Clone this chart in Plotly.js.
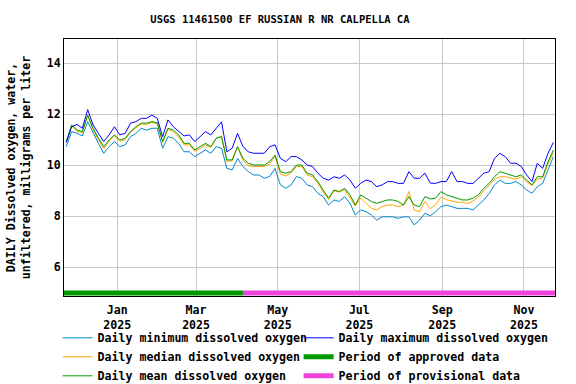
<!DOCTYPE html>
<html>
<head>
<meta charset="utf-8">
<script src="https://cdn.plot.ly/plotly-3.0.1.min.js"></script>
<style>
  body { margin: 0; background: #fff; }
  #plot { width: 576px; height: 384px; }
</style>
</head>
<body>
<div id="plot"></div>
<script>
// USGS 11461500 - daily dissolved oxygen, values read every 4 days from the plot
var startDate = "2024-11-24";
var stepDays = 4;

var dailyMax = [10.89, 11.51, 11.6, 11.45, 12.18, 11.58, 11.25, 10.93, 11.19, 11.51, 11.19, 11.25, 11.65, 11.71, 11.84, 11.84, 11.97, 11.84, 11.12, 11.78, 11.51, 11.32, 11.15,
  11.19, 10.93, 11.12, 11.32, 11.19, 11.45, 11.7, 10.53, 10.67, 11.25, 10.73, 10.53, 10.47, 10.47, 10.47, 10.73, 10.8, 10.27, 10.14, 10.34, 10.34, 10.21, 10.01,
  9.95, 9.69, 9.49, 9.42, 9.55, 9.49, 9.62, 9.42, 9.10, 9.29, 9.42, 9.36, 9.16, 9.23, 9.36, 9.36, 9.29, 9.29, 9.75, 9.49, 9.49, 9.69, 9.3,
  9.29, 9.36, 9.36, 9.75, 9.36, 9.36, 9.29, 9.29, 9.49, 9.69, 9.75, 10.27, 10.47, 10.34, 10.08, 10.08, 9.95, 9.62, 9.36, 10.08, 9.88, 10.47, 10.9];

var dailyMin = [10.73, 11.32, 11.25, 11.15, 11.71, 11.25, 10.86, 10.47, 10.73, 10.93, 10.73, 10.8, 11.12, 11.25, 11.45, 11.38, 11.45, 11.45, 10.67, 11.12, 11.06, 10.86, 10.53,
  10.53, 10.34, 10.47, 10.6, 10.47, 10.73, 10.67, 9.88, 9.82, 10.27, 9.95, 9.75, 9.62, 9.62, 9.49, 9.56, 9.88, 9.23, 9.10, 9.23, 9.56, 9.49, 9.23,
  9.16, 8.90, 8.77, 8.44, 8.64, 8.58, 8.77, 8.51, 8.05, 8.25, 8.18, 8.05, 7.85, 7.98, 7.98, 7.98, 7.92, 7.98, 7.98, 7.66, 7.85, 8.12, 8.02,
  8.18, 8.38, 8.44, 8.38, 8.31, 8.31, 8.31, 8.25, 8.44, 8.64, 8.90, 9.23, 9.42, 9.29, 9.29, 9.36, 9.23, 9.03, 8.90, 9.16, 9.29, 9.82, 10.34];

var dailyMean = [10.93, 11.58, 11.38, 11.32, 11.97, 11.45, 11.06, 10.73, 10.99, 11.19, 10.99, 11.06, 11.32, 11.51, 11.65, 11.65, 11.71, 11.67, 10.93, 11.45, 11.38, 11.19, 10.86,
  10.86, 10.60, 10.73, 10.86, 10.73, 11.06, 11.12, 10.21, 10.21, 10.73, 10.27, 10.08, 10.01, 10.01, 10.01, 10.14, 10.40, 9.75, 9.69, 9.75, 10.01, 10.01, 9.69,
  9.62, 9.36, 9.03, 8.71, 9.03, 8.97, 9.10, 8.84, 8.44, 8.84, 8.71, 8.58, 8.51, 8.58, 8.64, 8.64, 8.58, 8.44, 8.77, 8.44, 8.38, 8.77, 8.68,
  8.71, 8.97, 8.84, 8.77, 8.71, 8.64, 8.64, 8.71, 8.84, 9.10, 9.29, 9.55, 9.75, 9.69, 9.62, 9.55, 9.62, 9.42, 9.23, 9.55, 9.55, 10.14, 10.60];

var dailyMedian = [10.9, 11.55, 11.32, 11.28, 11.95, 11.4, 11.0, 10.65, 10.95, 11.15, 10.95, 11.0, 11.3, 11.45, 11.62, 11.6, 11.68, 11.62, 10.9, 11.42, 11.3, 11.12, 10.8,
  10.8, 10.55, 10.65, 10.8, 10.7, 11.05, 11.15, 10.15, 10.18, 10.72, 10.2, 9.98, 9.95, 9.95, 9.95, 10.05, 10.35, 9.65, 9.58, 9.7, 9.95, 9.95, 9.62,
  9.55, 9.3, 8.95, 8.65, 9.0, 8.95, 9.05, 8.75, 8.4, 8.71, 8.51, 8.31, 8.25, 8.38, 8.44, 8.44, 8.38, 8.44, 8.97, 8.25, 8.18, 8.58, 8.3,
  8.45, 8.75, 8.65, 8.6, 8.55, 8.55, 8.5, 8.6, 8.75, 9.0, 9.2, 9.45, 9.55, 9.55, 9.5, 9.45, 9.55, 9.35, 9.2, 9.45, 9.5, 10.05, 10.5];

// data approval periods
var approvedDates = ["2024-11-22", "2025-04-05"];
var provisionalDates = ["2025-04-05", "2025-11-25"];
var periodLevel = 4.99;

var tickDates = ["2025-01-01", "2025-03-01", "2025-05-01", "2025-07-01", "2025-09-01", "2025-11-01"];
var tickLabels = ["Jan<br>2025", "Mar<br>2025", "May<br>2025", "Jul<br>2025", "Sep<br>2025", "Nov<br>2025"];
var yTicks = [6, 8, 10, 12, 14];

// build the date axis from start + step
var dates = dailyMax.map(function(v, i) {
  var d = new Date(startDate + "T00:00:00Z");
  d.setUTCDate(d.getUTCDate() + i * stepDays);
  return d.toISOString().slice(0, 10);
});

var font = "DejaVu Sans Mono, monospace";

// left legend column: min, median, mean; right column: max, approved, provisional
var traceMin = { x: dates, y: dailyMin, type: "scatter", mode: "lines", name: "Daily minimum dissolved oxygen",
  line: { color: "#0088cc", width: 1 }, legend: "legend" };
var traceMedian = { x: dates, y: dailyMedian, type: "scatter", mode: "lines", name: "Daily median dissolved oxygen",
  line: { color: "#ffa500", width: 1 }, legend: "legend" };
var traceMean = { x: dates, y: dailyMean, type: "scatter", mode: "lines", name: "Daily mean dissolved oxygen",
  line: { color: "#009900", width: 1 }, legend: "legend" };
var traceMax = { x: dates, y: dailyMax, type: "scatter", mode: "lines", name: "Daily maximum dissolved oxygen",
  line: { color: "#0000ff", width: 1 }, legend: "legend2" };
var traceApproved = { x: approvedDates, y: approvedDates.map(function() { return periodLevel; }), type: "scatter", mode: "lines",
  name: "Period of approved data", line: { color: "#009900", width: 5 }, legend: "legend2" };
var traceProvisional = { x: provisionalDates, y: provisionalDates.map(function() { return periodLevel; }), type: "scatter", mode: "lines",
  name: "Period of provisional data", line: { color: "#ee44dd", width: 5 }, legend: "legend2" };

var data = [traceMin, traceMedian, traceMean, traceMax, traceApproved, traceProvisional];

var legendFont = { family: font, size: 11.6, weight: "bold" };

var layout = {
  width: 576,
  height: 384,
  margin: { l: 64, r: 21, t: 39, b: 88 },
  paper_bgcolor: "#ffffff",
  plot_bgcolor: "#ffffff",
  font: { family: font, size: 11.6, color: "#000000", weight: "bold" },
  title: { text: "USGS 11461500 EF RUSSIAN R NR CALPELLA CA", font: { family: font, size: 10.5, weight: "bold" },
    xref: "container", x: 0.486, xanchor: "center", yref: "container", y: 0.95, yanchor: "middle" },
  showlegend: true,
  // horizontal legends with wide entries so each item sits on its own row
  legend: { orientation: "h", xref: "container", yref: "container", x: 0.1, y: 0.158, xanchor: "left", yanchor: "top",
    entrywidth: 300, entrywidthmode: "pixels", traceorder: "normal", font: legendFont, bgcolor: "rgba(0,0,0,0)" },
  legend2: { orientation: "h", xref: "container", yref: "container", x: 0.5184, y: 0.158, xanchor: "left", yanchor: "top",
    entrywidth: 300, entrywidthmode: "pixels", traceorder: "normal", font: legendFont, bgcolor: "rgba(0,0,0,0)" },
  xaxis: {
    type: "date",
    range: ["2024-11-22 07:00", "2025-11-24 05:00"],
    tickmode: "array", tickvals: tickDates, ticktext: tickLabels,
    tickfont: { family: font, size: 11.6, weight: "bold" },
    ticklabelstandoff: 3,
    showgrid: true, gridcolor: "#c8c8c8", gridwidth: 1,
    showline: true, linecolor: "#000000", linewidth: 1, mirror: true,
    ticks: "", zeroline: false
  },
  yaxis: {
    range: [4.875, 14.95],
    tickmode: "array", tickvals: yTicks,
    tickfont: { family: font, size: 11.6, weight: "bold" },
    showgrid: true, gridcolor: "#c8c8c8", gridwidth: 1,
    showline: true, linecolor: "#000000", linewidth: 1, mirror: true,
    ticks: "", zeroline: false,
    title: { text: "DAILY Dissolved oxygen, water,<br>unfiltered, milligrams per liter", font: { family: font, size: 11.6, weight: "bold" }, standoff: 13 }
  }
};

Plotly.newPlot("plot", data, layout, { displayModeBar: false, staticPlot: true });
</script>
</body>
</html>
